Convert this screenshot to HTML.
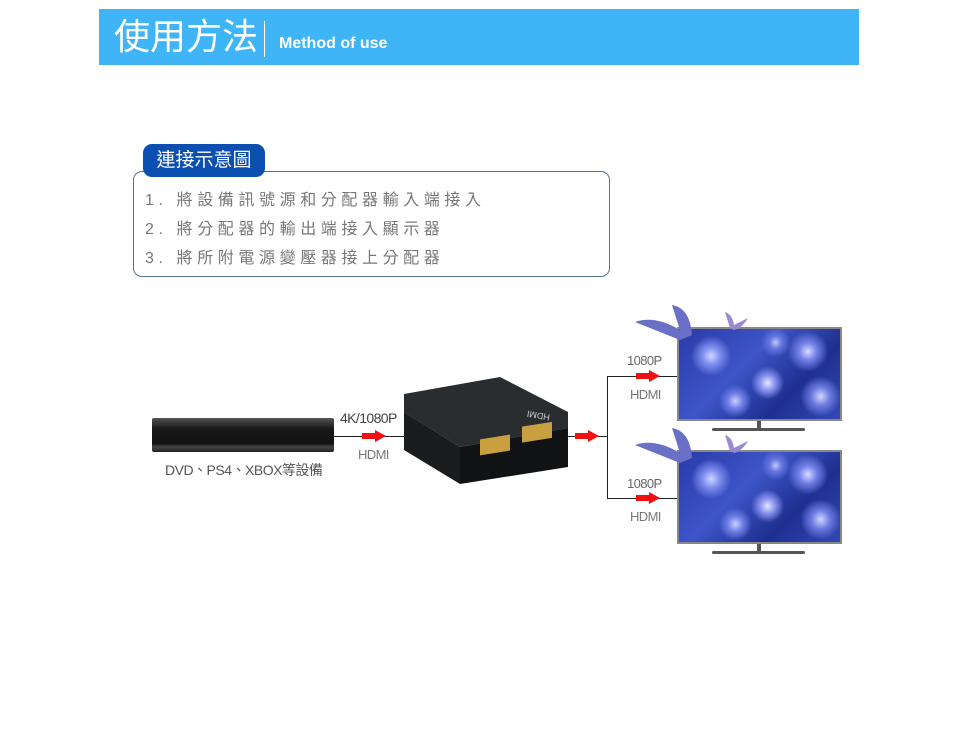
<!DOCTYPE html>
<html><head><meta charset="utf-8"><style>
*{margin:0;padding:0;box-sizing:border-box}
body{width:960px;height:742px;background:#fff;position:relative;overflow:hidden;font-family:"Liberation Sans","Noto Sans CJK TC",sans-serif}
.a{position:absolute}
.hdr{left:99px;top:9px;width:760px;height:56px;background:#3fb4f6}
.ln{background:#222}
.arr{position:absolute;width:24px;height:12px}
.scr{background:
radial-gradient(circle at 20% 30%,#cfd8ff 0,#7f8ff0 6%,transparent 14%),
radial-gradient(circle at 55% 60%,#e6e8ff 0,#8c96f0 7%,transparent 16%),
radial-gradient(circle at 80% 25%,#d8dcff 0,#7482e8 6%,transparent 14%),
radial-gradient(circle at 35% 80%,#c9d2ff 0,#6f7fe6 6%,transparent 13%),
radial-gradient(circle at 88% 75%,#d0d6ff 0,#6c7ae0 6%,transparent 13%),
radial-gradient(circle at 60% 15%,#c0c9ff 0,#6676de 5%,transparent 12%),
linear-gradient(135deg,#2a3aa8,#3d55c8 40%,#1f2f90 70%,#3348b8);}
.lb{font-size:13px;letter-spacing:-0.6px}
</style></head><body>
<div class="a hdr"></div>
<div class="a" style="left:114px;top:14px;font-size:36px;color:#fff;line-height:46px">使用方法</div>
<div class="a" style="left:264px;top:21px;width:1px;height:36px;background:#fff"></div>
<div class="a" style="left:279px;top:35px;font-size:16px;color:#fff;font-weight:bold">Method of use</div>

<div class="a" style="left:133px;top:171px;width:477px;height:106px;border:1.5px solid #4f7395;border-radius:9px"></div>
<div class="a" style="left:143px;top:144px;width:122px;height:33px;background:#0b4fb0;border-radius:9px;color:#fff;font-size:19px;line-height:33px;text-align:center">連接示意圖</div>
<div class="a" style="left:145px;top:186px;font-size:16px;color:#777;letter-spacing:4.6px;line-height:29px">1. 將設備訊號源和分配器輸入端接入<br>2. 將分配器的輸出端接入顯示器<br>3. 將所附電源變壓器接上分配器</div>

<!-- DVD -->
<div class="a" style="left:152px;top:418px;width:182px;height:34px;background:linear-gradient(#555,#1a1a1a 30%,#111 75%,#444 85%,#222);border-radius:2px"></div>
<div class="a" style="left:165px;top:460px;font-size:14px;color:#555;letter-spacing:-0.5px">DVD、PS4、XBOX等設備</div>
<div class="a ln" style="left:333px;top:436px;width:75px;height:1px"></div>
<svg class="arr" style="left:362px;top:430px"><path d="M0 3H13V0L24 6 13 12V9H0Z" fill="#f01010"/></svg>
<div class="a" style="left:340px;top:410px;font-size:14px;color:#444;letter-spacing:-0.6px">4K/1080P</div>
<div class="a lb" style="left:358px;top:447px;color:#777">HDMI</div>

<!-- splitter -->
<svg class="a" style="left:400px;top:372px" width="172" height="116">
<polygon points="4,22 100,5 168,40 168,56 60,75 4,40" fill="#2a2d30"/>
<polygon points="4,40 60,75 60,112 4,78" fill="#1a1c1e"/>
<polygon points="60,75 168,56 168,95 60,112" fill="#101214"/>
<rect x="80" y="80" width="30" height="16" fill="#c9a040" transform="skewY(-9)"/>
<rect x="122" y="74" width="30" height="16" fill="#c9a040" transform="skewY(-9)"/>
<text x="110" y="45" font-size="9" fill="#ccc" font-family="Liberation Sans" transform="rotate(190 130 42)">HDMI</text>
</svg>

<div class="a ln" style="left:567px;top:436px;width:41px;height:1px"></div>
<svg class="arr" style="left:575px;top:430px"><path d="M0 3H13V0L24 6 13 12V9H0Z" fill="#f01010"/></svg>
<div class="a ln" style="left:607px;top:376px;width:1px;height:123px"></div>
<div class="a ln" style="left:607px;top:376px;width:70px;height:1px"></div>
<div class="a ln" style="left:607px;top:498px;width:70px;height:1px"></div>
<svg class="arr" style="left:636px;top:370px"><path d="M0 3H13V0L24 6 13 12V9H0Z" fill="#f01010"/></svg>
<svg class="arr" style="left:636px;top:492px"><path d="M0 3H13V0L24 6 13 12V9H0Z" fill="#f01010"/></svg>
<div class="a lb" style="left:627px;top:353px;color:#666">1080P</div>
<div class="a lb" style="left:630px;top:387px;color:#777">HDMI</div>
<div class="a lb" style="left:627px;top:476px;color:#666">1080P</div>
<div class="a lb" style="left:630px;top:509px;color:#777">HDMI</div>

<!-- TVs -->
<div class="a scr" style="left:677px;top:327px;width:165px;height:94px;border:2px solid #888"></div>
<div class="a" style="left:757px;top:421px;width:4px;height:8px;background:#555"></div>
<div class="a" style="left:712px;top:428px;width:93px;height:3px;background:#555;border-radius:2px"></div>
<div class="a scr" style="left:677px;top:450px;width:165px;height:94px;border:2px solid #888"></div>
<div class="a" style="left:757px;top:544px;width:4px;height:8px;background:#555"></div>
<div class="a" style="left:712px;top:551px;width:93px;height:3px;background:#555;border-radius:2px"></div>
<svg class="a" style="left:630px;top:300px" width="130" height="45"><path d="M50 40 L5 22 Q25 15 50 30 L42 5 Q60 8 62 35Z" fill="#6a70c8"/><path d="M100 28 L95 12 Q102 14 104 25 L118 18 Q112 28 104 30Z" fill="#9a88d0"/></svg>
<svg class="a" style="left:630px;top:423px" width="130" height="45"><path d="M50 40 L5 22 Q25 15 50 30 L42 5 Q60 8 62 35Z" fill="#6a70c8"/><path d="M100 28 L95 12 Q102 14 104 25 L118 18 Q112 28 104 30Z" fill="#9a88d0"/></svg>
</body></html>
